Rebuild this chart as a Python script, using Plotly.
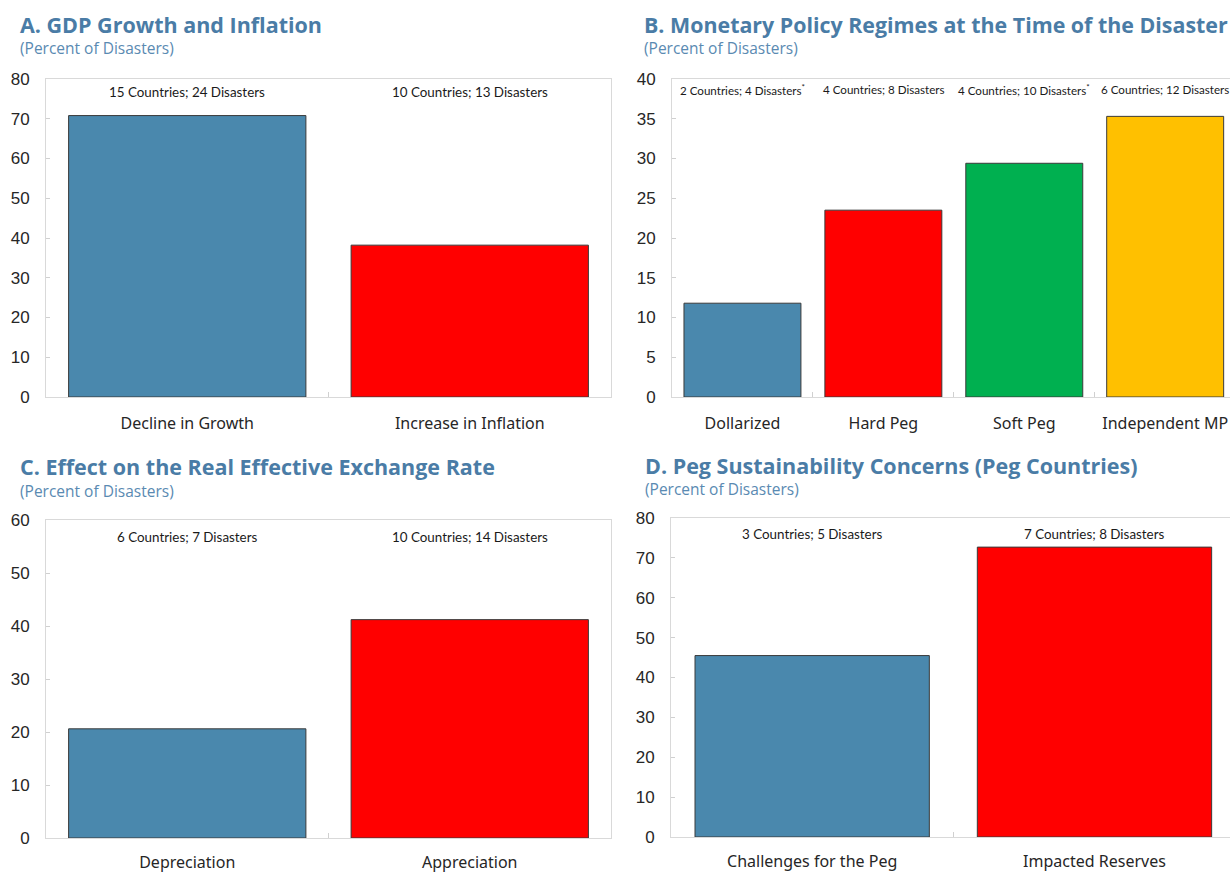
import plotly.graph_objects as go

# ---------------- data ----------------
a_categories = ["Decline in Growth", "Increase in Inflation"]
a_values = [70.8, 38.2]
a_notes = ["15 Countries; 24 Disasters", "10 Countries; 13 Disasters"]

b_categories = ["Dollarized", "Hard Peg", "Soft Peg", "Independent MP"]
b_values = [11.8, 23.5, 29.4, 35.3]
b_notes = ["2 Countries; 4 Disasters<sup>*</sup>", "4 Countries; 8 Disasters",
           "4 Countries; 10 Disasters<sup>*</sup>", "6 Countries; 12 Disasters"]

c_categories = ["Depreciation", "Appreciation"]
c_values = [20.6, 41.2]
c_notes = ["6 Countries; 7 Disasters", "10 Countries; 14 Disasters"]

d_categories = ["Challenges for the Peg", "Impacted Reserves"]
d_values = [45.5, 72.7]
d_notes = ["3 Countries; 5 Disasters", "7 Countries; 8 Disasters"]

titles = ["A. GDP Growth and Inflation",
          "B. Monetary Policy Regimes at the Time of the Disaster",
          "C. Effect on the Real Effective Exchange Rate",
          "D. Peg Sustainability Concerns (Peg Countries)"]
subtitle = "(Percent of Disasters)"

# ---------------- style ----------------
BLUE = "#4a88ad"
RED = "#ff0000"
GREEN = "#00b050"
GOLD = "#ffc000"
TITLE_C = "#4a7ca6"
SUB_C = "#5a8ab2"
W, H = 1230, 873

fig = go.Figure()

def px_x(p):
    return min(1.0, p / W)

def px_y(p):
    return 1 - p / H

panels = [
    dict(cats=a_categories, vals=a_values, notes=a_notes, colors=[BLUE, RED],
         xd=[px_x(46), px_x(611)], yd=[px_y(397), px_y(79)], yr=[0, 80], dt=10,
         xr=[-0.5, 1.5], bw=0.84, nsize=13.4, ny=0.958, xs=12,
         title=titles[0], tsize=21.5, tx=18, ty=24, sy=48),
    dict(cats=b_categories, vals=b_values, notes=b_notes, colors=[BLUE, RED, GREEN, GOLD],
         xd=[px_x(672), px_x(1230)], yd=[px_y(397), px_y(79)], yr=[0, 40], dt=5,
         xr=[-0.5, 3.46], bw=0.83, nsize=11.6, ny=0.968, xs=12,
         title=titles[1], tsize=21.4, tx=642, ty=24, sy=48),
    dict(cats=c_categories, vals=c_values, notes=c_notes, colors=[BLUE, RED],
         xd=[px_x(46), px_x(611)], yd=[px_y(838), px_y(520)], yr=[0, 60], dt=10,
         xr=[-0.5, 1.5], bw=0.84, nsize=13.4, ny=0.947, xs=10,
         title=titles[2], tsize=21.5, tx=18, ty=466, sy=491),
    dict(cats=d_categories, vals=d_values, notes=d_notes, colors=[BLUE, RED],
         xd=[px_x(671), px_x(1230)], yd=[px_y(837), px_y(518)], yr=[0, 80], dt=10,
         xr=[-0.5, 1.48], bw=0.83, nsize=13.4, ny=0.95, xs=10,
         title=titles[3], tsize=21.5, tx=643, ty=465, sy=489),
]

annotations = []
for i, p in enumerate(panels, start=1):
    xa = "x" if i == 1 else f"x{i}"
    ya = "y" if i == 1 else f"y{i}"
    fig.add_trace(go.Bar(
        x=p["cats"], y=p["vals"], xaxis=xa, yaxis=ya,
        marker=dict(color=p["colors"], line=dict(color="#3a3a3a", width=1)),
        width=p["bw"], showlegend=False, hoverinfo="x+y"))
    xkey = "xaxis" if i == 1 else f"xaxis{i}"
    ykey = "yaxis" if i == 1 else f"yaxis{i}"
    fig.update_layout({
        xkey: dict(domain=p["xd"], anchor=ya, type="category", range=p["xr"],
                   automargin=False,
                   showline=True, linecolor="#d9d9d9", linewidth=1, mirror=True,
                   ticks="inside", tickson="boundaries", ticklen=5, tickcolor="#d0d0d0",
                   showgrid=False, zeroline=False, ticklabelstandoff=p["xs"],
                   tickfont=dict(family="Noto Sans", size=16, color="#262626"),
                   fixedrange=True),
        ykey: dict(domain=p["yd"], anchor=xa, range=p["yr"], dtick=p["dt"],
                   automargin=False,
                   showline=True, linecolor="#d9d9d9", linewidth=1, mirror=True,
                   ticks="inside", ticklen=4, tickcolor="#d0d0d0",
                   showgrid=False, zeroline=False, ticklabelstandoff=12,
                   tickfont=dict(family="Liberation Sans", size=17, color="#262626"),
                   fixedrange=True),
    })
    for cat, note in zip(p["cats"], p["notes"]):
        annotations.append(dict(x=cat, y=p["ny"], xref=xa, yref=f"{ya} domain",
                                text=note, showarrow=False, xanchor="center", yanchor="middle",
                                font=dict(family="Lato", size=p["nsize"], color="#1a1a1a")))
    annotations.append(dict(x=px_x(p["tx"]), y=px_y(p["ty"]), xref="paper", yref="paper",
                            text=f"<b>{p['title']}</b>", showarrow=False,
                            xanchor="left", yanchor="middle",
                            font=dict(family="Open Sans", size=p["tsize"], color=TITLE_C)))
    annotations.append(dict(x=px_x(p["tx"]), y=px_y(p["sy"]), xref="paper", yref="paper",
                            text=subtitle, showarrow=False,
                            xanchor="left", yanchor="middle",
                            font=dict(family="Open Sans", size=15.5, color=SUB_C)))

fig.update_layout(
    width=W, height=H, margin=dict(l=0, r=0, t=0, b=0),
    paper_bgcolor="white", plot_bgcolor="white",
    annotations=annotations,
)

fig.write_html("out.html",
               config={"displayModeBar": False},
               post_script="document.body.style.margin='0';document.body.style.overflow='hidden';")
